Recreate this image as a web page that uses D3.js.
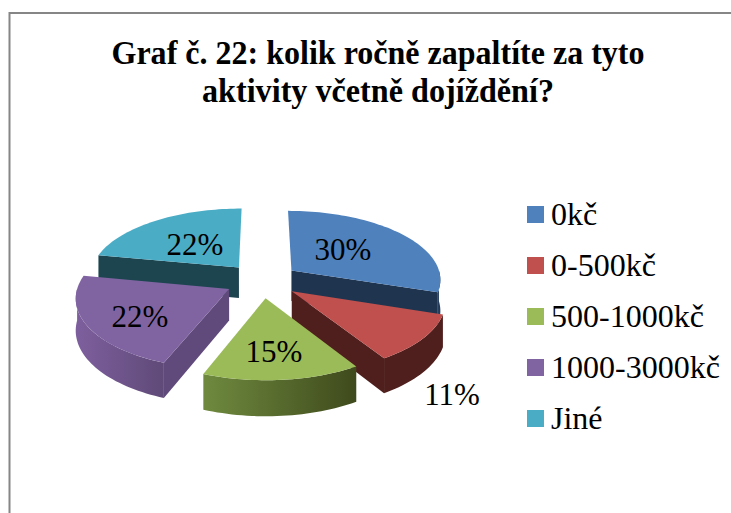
<!DOCTYPE html>
<html><head><meta charset="utf-8">
<script src="https://cdn.jsdelivr.net/npm/d3@7"></script>
<style>html,body{margin:0;padding:0;background:#fff}svg{display:block}text{font-family:"Liberation Serif","Times New Roman",serif;fill:#000}</style>
</head><body><svg id="c" width="731" height="513"></svg>
<script>
const titleLines = ["Graf č. 22: kolik ročně zapaltíte za tyto", "aktivity včetně dojíždění?"];
const categories = ["0kč", "0-500kč", "500-1000kč", "1000-3000kč", "Jiné"];
const values = [30, 11, 15, 22, 22];
const colors = ["#4f81bd", "#c0504d", "#9bbb59", "#8064a2", "#4bacc6"];
const cutColors = ["#1f344f", "#4f1f1d", "#4a5a25", "#604a7b", "#1d4550"];
const wallStart = ["#2a4568", "#4f1f1d", "#6f8a3f", "#7e5f9e", "#1d4550"];
const wallEnd = ["#1f344f", "#4f1f1d", "#3f4a1c", "#5f4a78", "#1d4550"];
const labelCenters = [[343, 260], [452, 405], [274, 362], [140, 327], [195, 255]];
const drawOrder = [4, 0, 3, 1, 2];

const cx = 262, cy = 280.6, R = 150, k = 0.467, persp = 0.114, explode = 37, depth = 31;
const svg = d3.select("#c");
const defs = svg.append("defs");

svg.append("path").attr("fill", "none").attr("stroke", "#868686").attr("stroke-width", 2)
  .attr("d", d3.line()([[731, 13], [9.5, 13], [9.5, 513]]));

svg.selectAll("text.title").data(titleLines).join("text").attr("class", "title")
  .attr("x", 378).attr("y", (d, i) => 64 + i * 38).attr("text-anchor", "middle")
  .attr("font-weight", "bold").attr("font-size", 34)
  .attr("textLength", (d, i) => i === 0 ? 533 : 352).attr("lengthAdjust", "spacingAndGlyphs").text(d => d);

const pie = d3.pie().sort(null)(values);

function project(X, Y) {
  const s = 1 + persp * Y / R;
  return [cx + X * s, cy + k * Y * s];
}
function polar(a, r, mid) {
  return project(explode * Math.sin(mid) + r * Math.sin(a), -explode * Math.cos(mid) - r * Math.cos(a));
}
const line = d3.line();
const drop = p => {
  const s = 1 + persp * ((p[1] - cy) / k) / R;
  return [p[0], p[1] + depth * s];
};

drawOrder.forEach(i => {
  const d = pie[i], mid = (d.startAngle + d.endAngle) / 2;
  const n = Math.ceil((d.endAngle - d.startAngle) / 0.03);
  const arcPts = d3.range(n + 1).map(j => polar(d.startAngle + (d.endAngle - d.startAngle) * j / n, R, mid));
  const apex = polar(0, 0, mid);
  const a0 = arcPts[0], a1 = arcPts[n];
  const g = svg.append("g").attr("class", "slice");

  const gradId = "wall" + i;
  const grad = defs.append("linearGradient").attr("id", gradId);
  grad.append("stop").attr("offset", 0).attr("stop-color", wallStart[i]);
  grad.append("stop").attr("offset", 1).attr("stop-color", wallEnd[i]);

  const lo = Math.max(d.startAngle, Math.PI / 2), hi = Math.min(d.endAngle, Math.PI * 1.5);
  if (hi > lo) {
    const m = Math.ceil((hi - lo) / 0.03);
    const vis = d3.range(m + 1).map(j => polar(lo + (hi - lo) * j / m, R, mid));
    g.append("path").attr("fill", `url(#${gradId})`)
      .attr("d", line(vis.concat(vis.map(drop).reverse())) + "Z");
  }
  if (Math.sin(d.startAngle) < -1e-6) {
    g.append("path").attr("fill", cutColors[i]).attr("d", line([apex, a0, drop(a0), drop(apex)]) + "Z");
  }
  if (Math.sin(d.endAngle) > 1e-6) {
    g.append("path").attr("fill", cutColors[i]).attr("d", line([apex, a1, drop(a1), drop(apex)]) + "Z");
  }
  g.append("path").attr("fill", colors[i]).attr("d", line([apex, ...arcPts]) + "Z");
});

svg.selectAll("text.lab").data(values).join("text").attr("class", "lab")
  .attr("x", (d, i) => labelCenters[i][0]).attr("y", (d, i) => labelCenters[i][1])
  .attr("text-anchor", "middle").attr("font-size", 31).text(d => d + "%");

const legend = d3.scalePoint().domain(categories).range([206, 410]);
svg.selectAll("rect.sw").data(categories).join("rect").attr("class", "sw")
  .attr("x", 527).attr("y", d => legend(d)).attr("width", 17).attr("height", 17)
  .attr("fill", (d, i) => colors[i]);
svg.selectAll("text.leg").data(categories).join("text").attr("class", "leg")
  .attr("x", 551).attr("y", d => legend(d) + 19).attr("font-size", 32).text(d => d);
</script></body></html>
